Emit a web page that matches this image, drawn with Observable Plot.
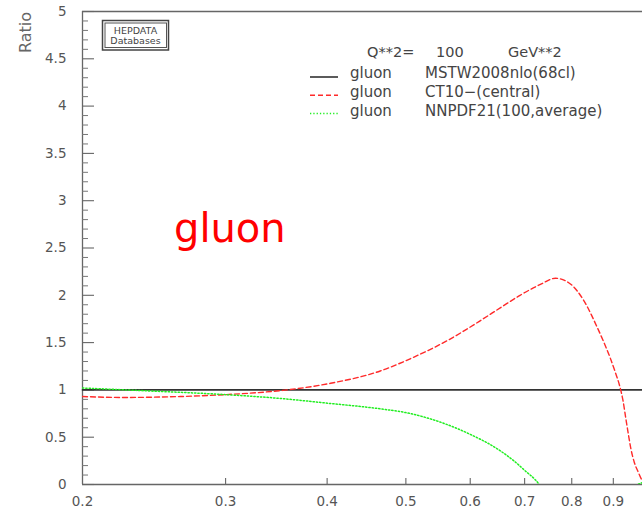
<!DOCTYPE html>
<html>
<head>
<meta charset="utf-8">
<script src="https://cdn.jsdelivr.net/npm/d3@7"></script>
<script src="https://cdn.jsdelivr.net/npm/@observablehq/plot@0.6"></script>
<style>
  body { margin: 0; background: #fff; }
  #chart svg { display: block; }
</style>
</head>
<body>
<div id="chart"></div>
<script>
// Gluon PDF ratios to MSTW2008nlo(68cl) at Q**2 = 100 GeV**2, versus momentum fraction x

// MSTW2008nlo(68cl): reference set, ratio 1
const mstwX = [0.2, 1.0];
const mstwR = [1, 1];

// CT10-(central)
const ct10X = [0.2, 0.225, 0.264, 0.3, 0.334, 0.357, 0.404, 0.465, 0.511, 0.562, 0.617, 0.654, 0.691, 0.732, 0.764, 0.797, 0.827, 0.86, 0.875, 0.892, 0.905, 0.916, 0.925, 0.932, 0.939, 0.946, 0.955, 0.966, 0.977, 0.99];
const ct10R = [0.93, 0.92, 0.93, 0.95, 0.976, 1.0, 1.07, 1.20, 1.345, 1.52, 1.73, 1.87, 2.0, 2.115, 2.18, 2.12, 1.95, 1.66, 1.515, 1.34, 1.187, 1.047, 0.888, 0.711, 0.536, 0.377, 0.236, 0.13, 0.04, 0.0];

// NNPDF21(100,average)
const nnpdfX = [0.2, 0.24, 0.3, 0.35, 0.4, 0.465, 0.5, 0.551, 0.6, 0.647, 0.679, 0.7, 0.728, 0.8, 0.9, 0.95, 0.965, 0.98];
const nnpdfR = [1.02, 0.99, 0.95, 0.91, 0.86, 0.80, 0.76, 0.66, 0.53, 0.38, 0.25, 0.15, 0.01, -0.8, -0.7, -0.15, 0.0, 0.02];

// Axis ticks
const yMajorTicks = [0, 0.5, 1, 1.5, 2, 2.5, 3, 3.5, 4, 4.5, 5];
const yMinorTicks = d3.range(1, 50).map(i => i / 10).filter(v => Math.abs(v * 2 - Math.round(v * 2)) > 1e-9);
const xTicks = [0.3, 0.4, 0.5, 0.6, 0.7, 0.8, 0.9];
const xTickLabels = [0.2, 0.3, 0.4, 0.5, 0.6, 0.7, 0.8, 0.9];

// Legend entries
const legendParton = ["gluon", "gluon", "gluon"];
const legendSets = ["MSTW2008nlo(68cl)", "CT10\u2212(central)", "NNPDF21(100,average)"];
const scaleLabel = ["Q**2=", "100", "GeV**2"];

const zip = (xs, ys) => xs.map((x, i) => ({x, r: ys[i]}));
const mstw = zip(mstwX, mstwR);
const ct10 = zip(ct10X, ct10R);
const nnpdf = zip(nnpdfX, nnpdfR);

const W = 642, H = 520;
const mL = 82, mT = 11, mB = 36, mR = 0;
const frameW = W - mL - mR, frameH = H - mT - mB;

const styles = [
  {stroke: "#333", strokeWidth: 1.6, dash: null},
  {stroke: "#ff2a2a", strokeWidth: 1.4, dash: "5,3"},
  {stroke: "#22ee22", strokeWidth: 1.5, dash: "1.3,2"}
];

// Legend, logo box and big label drawn in frame pixels
function annotations() {
  const g = d3.create("svg:g").attr("font-family", "DejaVu Sans").attr("text-anchor", "start");

  // HEPDATA logo box
  const logo = g.append("g");
  logo.append("rect").attr("x", 102.5).attr("y", 20.5).attr("width", 66).attr("height", 29.5)
    .attr("fill", "none").attr("stroke", "#444").attr("stroke-width", 1.5);
  logo.append("rect").attr("x", 105).attr("y", 23).attr("width", 61.5).attr("height", 24.5)
    .attr("fill", "none").attr("stroke", "#555").attr("stroke-width", 1);
  logo.append("text").attr("x", 135.5).attr("y", 34).attr("text-anchor", "middle")
    .attr("font-size", 9.5).attr("fill", "#444").text("HEPDATA");
  logo.append("text").attr("x", 135.5).attr("y", 43.5).attr("text-anchor", "middle")
    .attr("font-size", 9.5).attr("fill", "#444").text("Databases");

  // Scale header
  const hx = [367, 436, 508];
  scaleLabel.forEach((t, i) => {
    g.append("text").attr("x", hx[i]).attr("y", 57).attr("font-size", 14.5).attr("fill", "#444").text(t);
  });

  // Legend rows
  legendSets.forEach((name, i) => {
    const ty = 78 + i * 19;
    const ly = 77 + i * 18.3;
    const s = styles[i];
    const line = g.append("line").attr("x1", 310).attr("x2", 338).attr("y1", ly).attr("y2", ly)
      .attr("stroke", s.stroke).attr("stroke-width", s.strokeWidth);
    if (s.dash) line.attr("stroke-dasharray", s.dash);
    g.append("text").attr("x", 350).attr("y", ty).attr("font-size", 15).attr("fill", "#444").text(legendParton[i]);
    g.append("text").attr("x", 425).attr("y", ty).attr("font-size", 15).attr("fill", "#444").text(name);
  });

  // Big parton label
  g.append("text").attr("x", 174).attr("y", 242).attr("font-size", 40).attr("fill", "#ff0000").text("gluon");

  // y axis title
  g.append("text").attr("transform", "translate(31,32.5) rotate(-90)").attr("text-anchor", "middle")
    .attr("font-size", 16).attr("fill", "#666").text("Ratio");

  return g.node();
}

const chart = Plot.plot({
  width: W,
  height: H,
  marginLeft: mL,
  marginTop: mT,
  marginBottom: mB,
  marginRight: mR,
  style: {fontFamily: "DejaVu Sans", background: "#fff", overflow: "visible"},
  x: {type: "log", domain: [0.2, 1], range: [mL, 650]},
  y: {domain: [0, 5]},
  marks: [
    // frame: bottom, top, left
    Plot.ruleY([0, 5], {stroke: "#666", strokeWidth: 1.3}),
    Plot.ruleX([0.2], {stroke: "#666", strokeWidth: 1.3}),
    // inward ticks
    Plot.tickY(yMajorTicks, {y: d => d, insetRight: frameW - 12, stroke: "#666", strokeWidth: 1.1}),
    Plot.tickY(yMinorTicks, {y: d => d, insetRight: frameW - 6, stroke: "#777", strokeWidth: 1}),
    Plot.tickX(xTicks, {x: d => d, insetTop: frameH - 6, stroke: "#666", strokeWidth: 1.1}),
    // tick labels
    Plot.axisY({ticks: yMajorTicks, tickSize: 0, tickPadding: 16, tickFormat: d => String(d),
      fontSize: 13.5, color: "#555", label: null}),
    Plot.axisX({ticks: xTickLabels, tickSize: 0, tickPadding: 12, tickFormat: d => String(d),
      fontSize: 13.5, color: "#555", label: null}),
    // PDF ratio curves
    Plot.line(mstw, {x: "x", y: "r", stroke: styles[0].stroke, strokeWidth: styles[0].strokeWidth}),
    Plot.line(ct10, {x: "x", y: "r", stroke: styles[1].stroke, strokeWidth: styles[1].strokeWidth,
      strokeDasharray: styles[1].dash, curve: "monotone-x", clip: true}),
    Plot.line(nnpdf, {x: "x", y: "r", stroke: styles[2].stroke, strokeWidth: styles[2].strokeWidth,
      strokeDasharray: styles[2].dash, curve: "monotone-x", clip: true}),
    annotations
  ]
});

document.getElementById("chart").append(chart);
</script>
</body>
</html>
